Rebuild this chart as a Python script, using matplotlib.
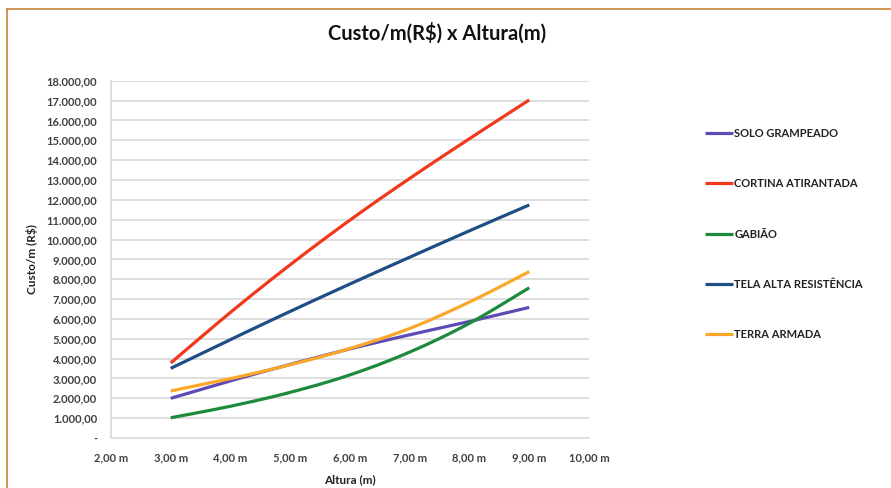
import numpy as np
import matplotlib

matplotlib.use("Agg")
import matplotlib.pyplot as plt
from matplotlib.lines import Line2D

# data (cost per metre, R$), one value per metre of height
alturas = [3, 4, 5, 6, 7, 8, 9]
solo_grampeado = [2000, 2880, 3710, 4490, 5200, 5870, 6580]
cortina_atirantada = [3780, 6330, 8730, 10980, 13080, 15080, 17030]
gabiao = [1020, 1600, 2300, 3180, 4330, 5780, 7570]
tela_alta_resistencia = [3510, 4960, 6380, 7760, 9110, 10440, 11740]
terra_armada = [2370, 2990, 3690, 4510, 5520, 6850, 8380]

series_names = ["SOLO GRAMPEADO", "CORTINA ATIRANTADA", "GABIÃO",
                "TELA ALTA RESISTÊNCIA", "TERRA ARMADA"]
series_values = [solo_grampeado, cortina_atirantada, gabiao,
                 tela_alta_resistencia, terra_armada]
series_colors = ["#5e4bb8", "#f2381c", "#1d8a3c", "#1f4e84", "#fba82a"]

x_ticks = [2, 3, 4, 5, 6, 7, 8, 9, 10]
y_ticks = list(range(0, 18001, 1000))


def excel_smooth(x, y, n=40):
    # cubic bezier through the points, control points like Excel's "smoothed line"
    pts = np.column_stack([x, y]).astype(float)
    out = []
    for i in range(len(pts) - 1):
        p0, p3 = pts[i], pts[i + 1]
        pm = pts[i - 1] if i > 0 else p0
        pn = pts[i + 2] if i + 2 < len(pts) else p3
        c1 = p0 + (p3 - pm) / 6
        c2 = p3 - (pn - p0) / 6
        t = np.linspace(0, 1, n)[:, None]
        seg = (1 - t) ** 3 * p0 + 3 * t * (1 - t) ** 2 * c1 + 3 * t ** 2 * (1 - t) * c2 + t ** 3 * p3
        out.append(seg if i == 0 else seg[1:])
    return np.vstack(out)


def fmt_brl(v):
    if v == 0:
        return "-"
    s = f"{v:,.2f}"
    return s.replace(",", "X").replace(".", ",").replace("X", ".")


plt.rcParams["font.family"] = ["Lato", "DejaVu Sans"]
text_col = "#404040"

W, H = 891, 488
fig = plt.figure(figsize=(W / 100, H / 100), dpi=100)
fig.patch.set_facecolor("white")

left, right, top, bottom = 111, 589, 80.7, 438
ax = fig.add_axes([left / W, 1 - bottom / H, (right - left) / W, (bottom - top) / H])

handles = []
for name, vals, col in zip(series_names, series_values, series_colors):
    curve = excel_smooth(alturas, vals)
    ax.plot(curve[:, 0], curve[:, 1], color=col, lw=2.3, solid_capstyle="butt")
    handles.append(Line2D([0], [0], color=col, lw=2.3, solid_capstyle="butt"))

ax.set_xlim(2, 10)
ax.set_ylim(0, 18000)
ax.set_xticks(x_ticks)
ax.set_xticklabels([f"{v:.2f}".replace(".", ",") + " m" for v in x_ticks])
ax.set_yticks(y_ticks)
ax.set_yticklabels([fmt_brl(v) for v in y_ticks])
ax.tick_params(length=0, labelsize=8, labelcolor=text_col)
ax.tick_params(axis="y", pad=10)
ax.tick_params(axis="x", pad=10)
for lab in ax.get_xticklabels() + ax.get_yticklabels():
    lab.set_fontweight("bold")

ax.grid(axis="y", color="#dedede", lw=1.4)
ax.set_axisbelow(True)
for side in ["top", "right"]:
    ax.spines[side].set_visible(False)
for side in ["left", "bottom"]:
    ax.spines[side].set_color("#dedede")
    ax.spines[side].set_linewidth(1.4)

ax.set_xlabel("Altura (m)", fontsize=8.5, fontweight="bold", color="#222222", labelpad=8)
ax.set_ylabel("Custo/m (R$)", fontsize=8.5, fontweight="bold", color="#222222", labelpad=6)

fig.text(0.49, 1 - 33 / H, "Custo/m(R$) x Altura(m)", ha="center", va="center",
         fontsize=14.5, fontweight="bold", color="#111111")

leg = ax.legend(handles, series_names, loc="upper left",
                bbox_to_anchor=(705 / W, 1 - 128 / H), bbox_transform=fig.transFigure,
                frameon=False, fontsize=8, handlelength=2.55, handletextpad=0.1,
                labelspacing=3.54, borderpad=0, borderaxespad=0)
for t in leg.get_texts():
    t.set_color("#222222")
    t.set_fontweight("bold")

# page frame edge visible at top/left of the crop
fig.add_artist(Line2D([7 / W, 7 / W], [0, 1 - 9 / H], transform=fig.transFigure,
                      color="#c8843c", lw=1.2))
fig.add_artist(Line2D([7 / W, 1], [1 - 9 / H, 1 - 9 / H], transform=fig.transFigure,
                      color="#c8843c", lw=1.2))

fig.savefig("out.png", dpi=100, facecolor="white")
plt.close(fig)
